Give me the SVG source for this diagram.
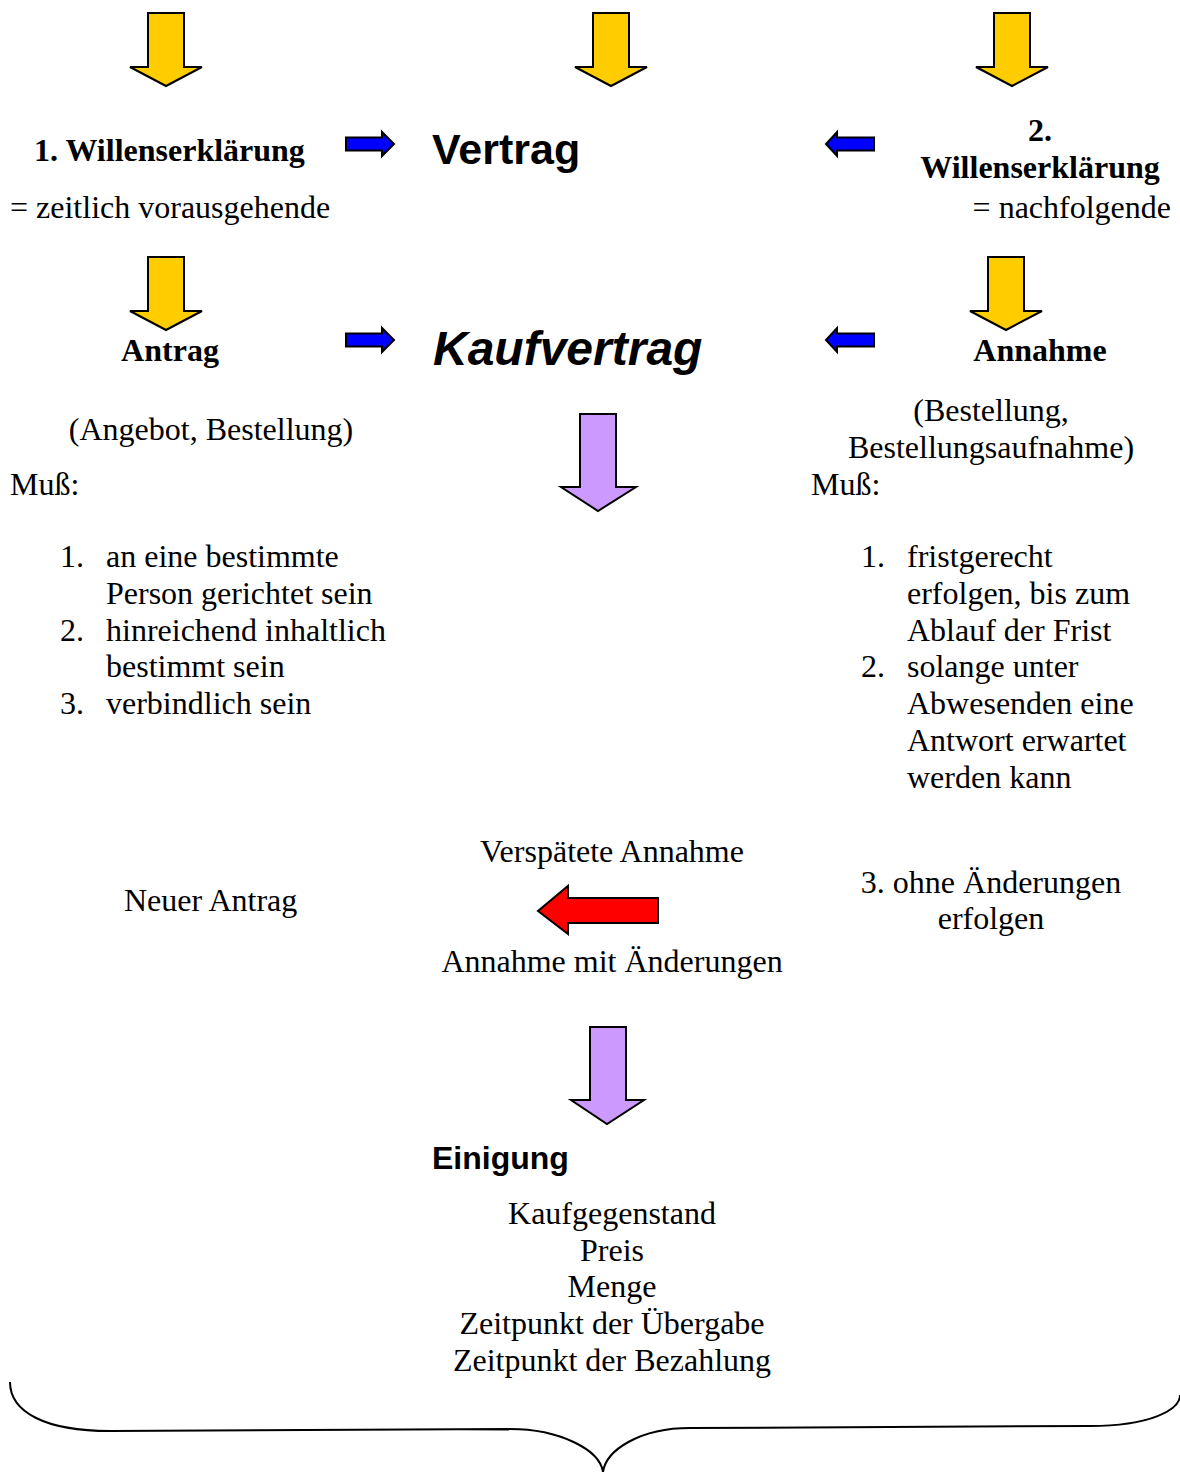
<svg xmlns="http://www.w3.org/2000/svg" width="1180" height="1472" viewBox="0 0 1180 1472">
<style>
.t{font-family:"Liberation Serif","Times New Roman",serif;font-size:32px;fill:#000}
.b{font-weight:bold}
.s{font-family:"Liberation Sans",Arial,sans-serif;font-weight:bold;fill:#000}
.m{text-anchor:middle}
.y{fill:#ffcc00;stroke:#000;stroke-width:2}
.bl{fill:#0000ff;stroke:#000;stroke-width:2}
.p{fill:#cc99ff;stroke:#000;stroke-width:2}
.r{fill:#ff0000;stroke:#000;stroke-width:2}
</style>
<defs>
<path id="down" d="M-18,0 H18 V54 H36 L0,73 L-36,54 H-18 Z"/>
<path id="right" d="M0,-6.5 H36 V-12 L48,0 L36,12 V6.5 H0 Z"/>
<path id="left" d="M0,-6.5 H-37 V-12 L-48,0 L-37,12 V6.5 H0 Z"/>
</defs>
<g id="connectors">
<use href="#down" class="y" x="166" y="13"/>
<use href="#down" class="y" x="611" y="13"/>
<use href="#down" class="y" x="1012" y="13"/>
<use href="#down" class="y" x="166" y="257"/>
<use href="#down" class="y" x="1006" y="257"/>
<use href="#right" class="bl" x="346" y="144"/>
<use href="#right" class="bl" x="346" y="340"/>
<use href="#left" class="bl" x="874" y="144"/>
<use href="#left" class="bl" x="874" y="340"/>
<path class="p" d="M580,414 H616 V487 H636 L598,511 L561,487 H580 Z"/>
<path class="p" d="M590,1027 H626 V1100 H644 L607,1124 L571,1100 H590 Z"/>
<path class="r" d="M658,898 V923 H568 V934 L538,911 L568,886 V898 Z"/>
<path d="M10,1382 C10,1412 45,1431 110,1431 L510,1429 C560,1429 600,1450 603,1472 C606,1450 640,1428 690,1428 L1090,1426 C1150,1426 1180,1410 1180,1395" fill="none" stroke="#000" stroke-width="2"/>
</g>
<g id="wille1">
<text class="t b" x="34" y="161">1. Willenserklärung</text>
<text class="t" x="10" y="218">= zeitlich vorausgehende</text>
</g>
<g id="vertrag"><text class="s" x="432" y="164" font-size="43">Vertrag</text></g>
<g id="wille2">
<text class="t b m" x="1040" y="141">2.</text>
<text class="t b m" x="1040" y="178">Willenserklärung</text>
<text class="t" x="1171" y="218" text-anchor="end">= nachfolgende</text>
</g>
<g id="antrag">
<text class="t b m" x="170" y="361">Antrag</text>
<text class="t m" x="211" y="440">(Angebot, Bestellung)</text>
<text class="t" x="10" y="495">Muß:</text>
<text class="t" x="60" y="567">1.</text><text class="t" x="106" y="567">an eine bestimmte</text>
<text class="t" x="106" y="604">Person gerichtet sein</text>
<text class="t" x="60" y="641">2.</text><text class="t" x="106" y="641">hinreichend inhaltlich</text>
<text class="t" x="106" y="677">bestimmt sein</text>
<text class="t" x="60" y="714">3.</text><text class="t" x="106" y="714">verbindlich sein</text>
</g>
<g id="kaufvertrag"><text class="s" x="433" y="365" font-size="48" font-style="italic">Kaufvertrag</text></g>
<g id="annahme">
<text class="t b m" x="1040" y="361">Annahme</text>
<text class="t m" x="991" y="421">(Bestellung,</text>
<text class="t m" x="991" y="458">Bestellungsaufnahme)</text>
<text class="t" x="811" y="495">Muß:</text>
<text class="t" x="861" y="567">1.</text><text class="t" x="907" y="567">fristgerecht</text>
<text class="t" x="907" y="604">erfolgen, bis zum</text>
<text class="t" x="907" y="641">Ablauf der Frist</text>
<text class="t" x="861" y="677">2.</text><text class="t" x="907" y="677">solange unter</text>
<text class="t" x="907" y="714">Abwesenden eine</text>
<text class="t" x="907" y="751">Antwort erwartet</text>
<text class="t" x="907" y="788">werden kann</text>
<text class="t m" x="991" y="893">3. ohne Änderungen</text>
<text class="t m" x="991" y="929">erfolgen</text>
</g>
<g id="verspaetet">
<text class="t m" x="612" y="862">Verspätete Annahme</text>
<text class="t m" x="612" y="972">Annahme mit Änderungen</text>
</g>
<g id="neuer-antrag"><text class="t" x="124" y="911">Neuer Antrag</text></g>
<g id="einigung">
<text class="s" x="432" y="1169" font-size="32">Einigung</text>
<text class="t m" x="612" y="1224">Kaufgegenstand</text>
<text class="t m" x="612" y="1261">Preis</text>
<text class="t m" x="612" y="1297">Menge</text>
<text class="t m" x="612" y="1334">Zeitpunkt der Übergabe</text>
<text class="t m" x="612" y="1371">Zeitpunkt der Bezahlung</text>
</g>
</svg>
